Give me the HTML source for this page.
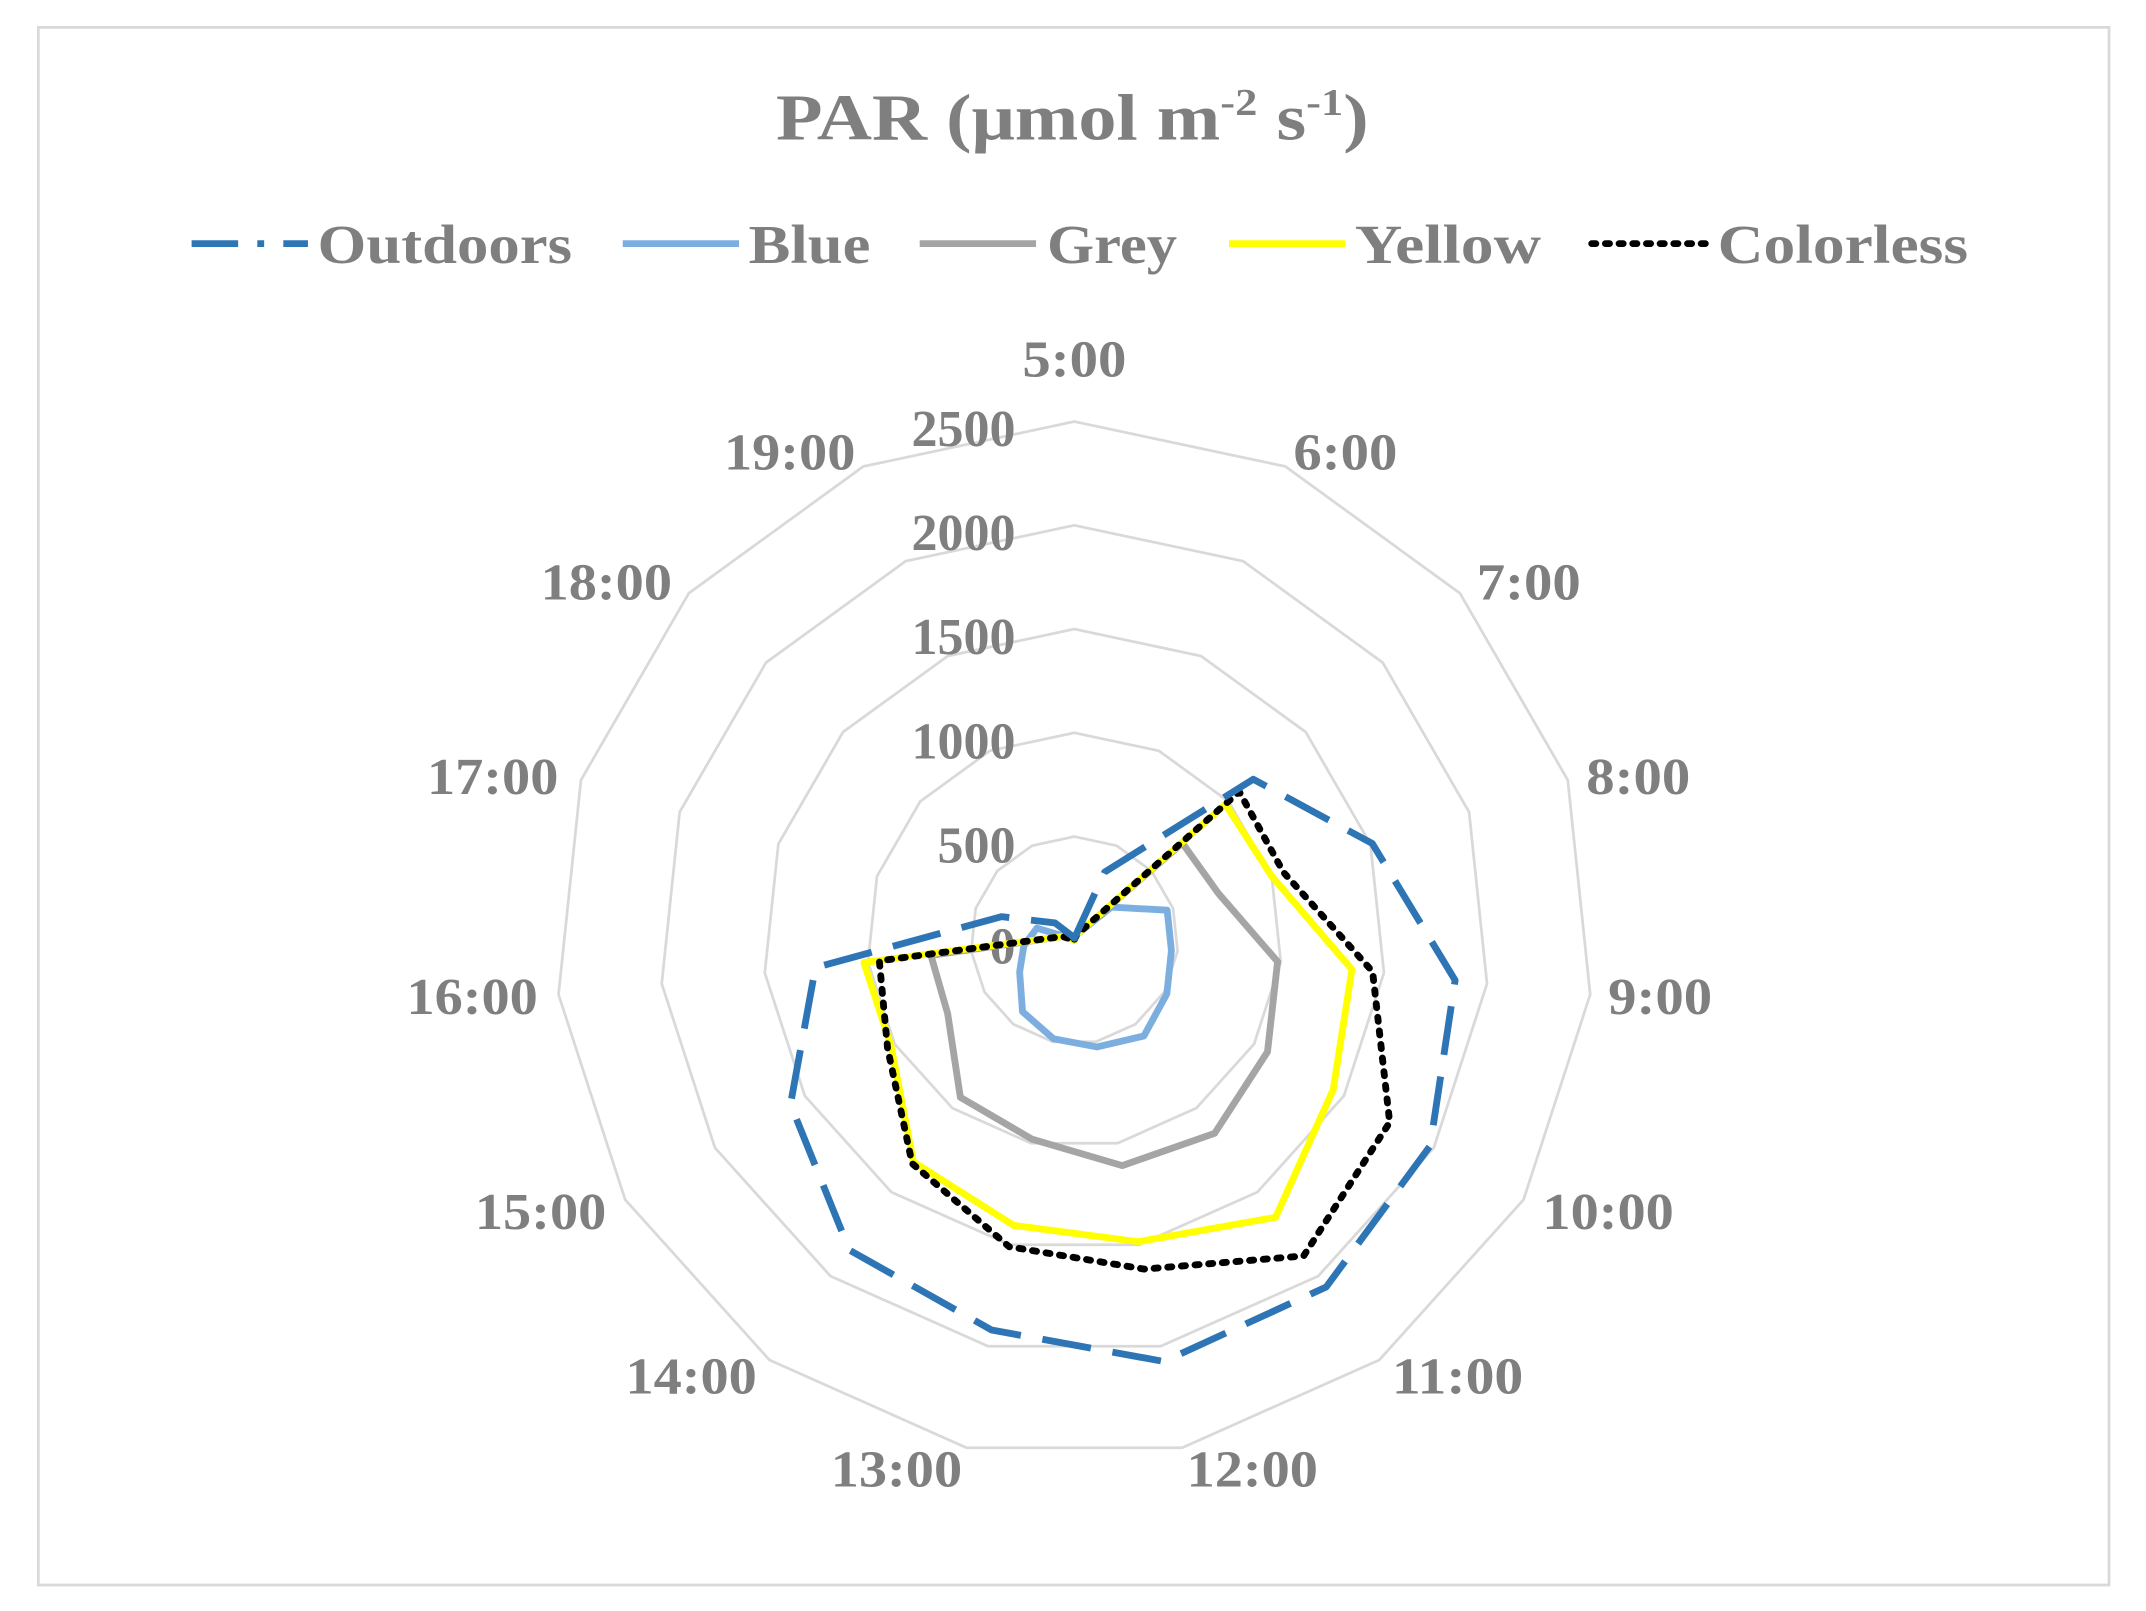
<!DOCTYPE html>
<html><head><meta charset="utf-8"><style>html,body{margin:0;padding:0;background:#fff}svg{display:block}</style></head>
<body>
<svg id="s" width="2146" height="1611" viewBox="0 0 1568 1177" preserveAspectRatio="none" xmlns="http://www.w3.org/2000/svg" font-family="Liberation Serif, serif" font-weight="bold" fill="#7f7f7f">
<rect x="28" y="20" width="1513" height="1138" fill="#fff" stroke="#d9d9d9" stroke-width="2"/>
<text x="567" y="102" font-size="48" textLength="433" lengthAdjust="spacingAndGlyphs">PAR (μmol m<tspan font-size="28" dy="-18">-2</tspan><tspan dy="18"> s</tspan><tspan font-size="28" dy="-18">-1</tspan><tspan dy="18">)</tspan></text>
<g font-size="40">
<line x1="140" y1="178" x2="225" y2="178" stroke="#2e75b6" stroke-width="5" stroke-dasharray="34,14,5,14"/>
<text x="232" y="192" textLength="186" lengthAdjust="spacingAndGlyphs">Outdoors</text>
<line x1="455" y1="178" x2="540" y2="178" stroke="#7cafe0" stroke-width="5"/>
<text x="547" y="192" textLength="89" lengthAdjust="spacingAndGlyphs">Blue</text>
<line x1="672" y1="178" x2="757" y2="178" stroke="#a5a5a5" stroke-width="5"/>
<text x="765" y="192" textLength="95" lengthAdjust="spacingAndGlyphs">Grey</text>
<line x1="898" y1="178" x2="983" y2="178" stroke="#ffff00" stroke-width="5"/>
<text x="990" y="192" textLength="136" lengthAdjust="spacingAndGlyphs">Yellow</text>
<line x1="1163" y1="178" x2="1248" y2="178" stroke="#000" stroke-width="5" stroke-dasharray="3,7" stroke-linecap="round"/>
<text x="1255" y="192" textLength="183" lengthAdjust="spacingAndGlyphs">Colorless</text>
</g>
<g id="grid" fill="none" stroke="#d9d9d9" stroke-width="2"></g>
<g id="cats" font-size="38" text-anchor="middle"></g>
<g font-size="38" text-anchor="end">
<text x="742" y="326">2500</text><text x="742" y="402">2000</text><text x="742" y="478">1500</text>
<text x="742" y="554">1000</text><text x="742" y="630">500</text><text x="742" y="704">0</text>
</g>
<g id="series" fill="none" stroke-width="5" stroke-linejoin="round"></g>
</svg>
<script>
var cx=785,cy=687,R=379,N=15,ns="http://www.w3.org/2000/svg";
function pt(i,v){var a=i*2*Math.PI/N,r=v/2500*R;return[(cx+r*Math.sin(a)).toFixed(1),(cy-r*Math.cos(a)).toFixed(1)];}
function poly(vals,attrs,parent){var p=document.createElementNS(ns,"polygon");p.setAttribute("points",vals.map(function(v,i){return pt(i,v).join(",")}).join(" "));for(var k in attrs)p.setAttribute(k,attrs[k]);parent.appendChild(p);}
var g=document.getElementById("grid");
for(var k=1;k<=5;k++){var a=[];for(var i=0;i<N;i++)a.push(k*500);poly(a,{},g);}
var labs=["5:00","6:00","7:00","8:00","9:00","10:00","11:00","12:00","13:00","14:00","15:00","16:00","17:00","18:00","19:00"];
var lp=[[785,262],[983,330],[1117,425],[1197,567],[1213,728],[1175,885],[1065,1005],[915,1073],[655,1073],[505,1005],[395,885],[345,728],[360,567],[443,425],[577,330]];
var c=document.getElementById("cats");
labs.forEach(function(l,i){var t=document.createElementNS(ns,"text");t.setAttribute("x",lp[i][0]);t.setAttribute("y",lp[i][1]+13);t.setAttribute("textLength",l.length==4?76:96);t.setAttribute("lengthAdjust","spacingAndGlyphs");t.textContent=l;c.appendChild(t);});
var s=document.getElementById("series");
poly([10,30,240,470,470,515,570,525,485,425,305,245,190,10,0],{stroke:"#7cafe0"},s);
poly([5,30,700,730,985,1075,1150,1110,980,935,705,695,60,5,0],{stroke:"#a5a5a5"},s);
poly([5,30,980,1000,1345,1440,1650,1485,1405,1320,1020,1020,60,5,0],{stroke:"#ffff00"},s);
poly([5,30,1070,1060,1445,1755,1880,1620,1510,1330,1040,945,60,5,0],{stroke:"#000","stroke-dasharray":"3,7","stroke-linecap":"round"},s);
poly([10,360,1160,1510,1845,1980,2065,2075,1920,1845,1580,1255,370,125,20],{stroke:"#2e75b6","stroke-dasharray":"36,16"},s);
</script>
</body></html>
